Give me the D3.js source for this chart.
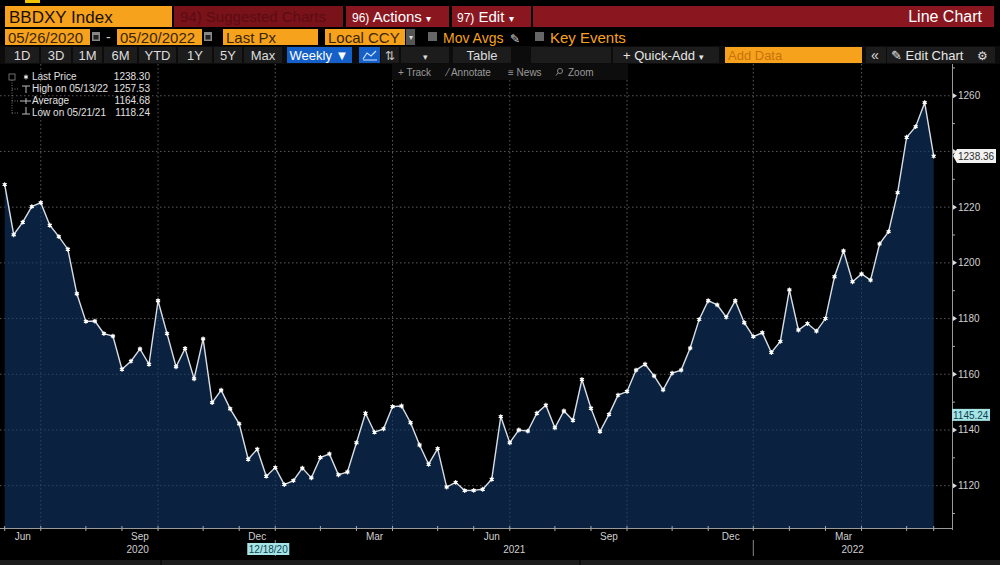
<!DOCTYPE html>
<html><head><meta charset="utf-8">
<script src="https://cdn.jsdelivr.net/npm/d3@7"></script>
<style>
html,body{margin:0;padding:0;background:#000;}
svg{display:block;font-family:"Liberation Sans",Arial,sans-serif;}
</style></head>
<body><svg id="c" width="1000" height="565"></svg>
<script>
// ---------- data ----------
const ticker = "BBDXY Index";
const startDateLabel = "05/26/2020";
const endDateLabel = "05/20/2022";
const firstWeek = new Date(2020, 4, 29);   // Friday 05/29/2020
const lastWeek  = new Date(2022, 4, 20);   // Friday 05/20/2022
const values = [
 1228.1,1210.1,1214.6,1220.2,1221.6,1213.5,1209.4,1204.9,1188.9,1179.0,
 1179.1,1174.6,1173.7,1161.8,1164.7,1169.1,1163.6,1186.4,1174.6,1162.7,
 1169.3,1158.4,1172.7,1149.8,1154.3,1147.6,1142.2,1129.5,1133.1,1123.4,
 1126.5,1120.4,1121.8,1126.3,1122.8,1130.1,1131.4,1123.9,1124.9,1135.4,
 1146.0,1139.2,1140.4,1148.4,1148.6,1142.6,1134.6,1127.7,1133.3,1119.5,
 1121.2,1118.24,1118.3,1118.7,1122.3,1144.8,1135.4,1140.0,1139.6,1146.0,
 1148.9,1140.8,1146.8,1143.5,1158.1,1147.8,1139.4,1145.6,1152.5,1153.8,
 1161.5,1163.6,1159.4,1154.4,1160.4,1161.5,1169.4,1179.7,1186.4,1184.9,
 1180.5,1186.4,1178.5,1173.5,1174.9,1167.8,1171.8,1190.3,1175.9,1178.2,
 1175.5,1180.0,1195.0,1204.3,1193.2,1196.0,1193.8,1206.8,1211.2,1225.2,
 1245.1,1248.9,1257.53,1238.30];
const yTicks = [1120,1140,1160,1180,1200,1220,1240,1260];
const yMinorTicks = [1110,1130,1150,1170,1190,1210,1230,1250,1270];
const quarterMonths = [2,5,8,11]; // Mar Jun Sep Dec
const legendLabels = ["Last Price","High on 05/13/22","Average","Low on 05/21/21"];
const legendValues = ["1238.30","1257.53","1164.68","1118.24"];
const lastTag = "1238.36";
const crossValue = 1145.24;
const crossDateLabel = "12/18/20";
const crossDate = new Date(2020, 11, 18);

const dates = d3.timeFriday.range(firstWeek, d3.timeDay.offset(lastWeek, 1));
const data = dates.map((d,i)=>({date:d, value:values[i]}));

// ---------- scales ----------
const svg = d3.select("#c");
const plot = {left:0, right:952, top:64, bottom:528};
const x = d3.scaleTime().domain([firstWeek, lastWeek]).range([4.7, 933.7]);
const y = d3.scaleLinear().domain([1104.8, 1271.4]).range([plot.bottom, plot.top]);

// month ticks = last weekly point of each month
const byMonth = d3.groups(data, d=>d.date.getFullYear()*12+d.date.getMonth());
const monthEnds = byMonth.map(g=>({key:g[0], date:g[1][g[1].length-1].date}));
const quarterEnds = monthEnds.filter(m=>quarterMonths.includes(m.date.getMonth()));

// ---------- header bars ----------
const orange = "#f7a21d", red = "#8a1720";
svg.append("rect").attr("x",25).attr("y",0).attr("width",15).attr("height",3).attr("fill","#f2c400");

svg.append("rect").attr("x",5).attr("y",6).attr("width",167).attr("height",21).attr("fill",orange);
svg.append("text").attr("x",9).attr("y",23).attr("font-size",17).attr("fill","#1a1000").text(ticker);
svg.append("rect").attr("x",174).attr("y",6).attr("width",169).attr("height",21).attr("fill","#7a121a");
svg.append("text").attr("x",180).attr("y",22).attr("font-size",15).attr("fill","#5a0c12").text("94) Suggested Charts");
svg.append("rect").attr("x",346).attr("y",6).attr("width",103).attr("height",21).attr("fill",red);
svg.append("text").attr("x",352).attr("y",22).attr("font-size",15).attr("fill","#fff").html('<tspan font-size="12">96)</tspan> Actions <tspan font-size="10">▾</tspan>');
svg.append("rect").attr("x",452).attr("y",6).attr("width",79).attr("height",21).attr("fill",red);
svg.append("text").attr("x",457).attr("y",22).attr("font-size",15).attr("fill","#fff").html('<tspan font-size="12">97)</tspan> Edit <tspan font-size="10">▾</tspan>');
svg.append("rect").attr("x",533).attr("y",6).attr("width",461).attr("height",21).attr("fill",red);
svg.append("text").attr("x",982).attr("y",22).attr("text-anchor","end").attr("font-size",16).attr("fill","#fff").text("Line Chart");

// row 2
function obox(x0,w,t){
  svg.append("rect").attr("x",x0).attr("y",29).attr("width",w).attr("height",16).attr("fill",orange);
  svg.append("text").attr("x",x0+3).attr("y",43).attr("font-size",15).attr("fill","#3a2600").text(t);
}
function cal(x0){
  svg.append("rect").attr("x",x0).attr("y",32).attr("width",8).attr("height",9).attr("fill","#888");
  svg.append("rect").attr("x",x0+1.5).attr("y",35).attr("width",5).attr("height",4.5).attr("fill","#222");
}
obox(5,85,startDateLabel); cal(92);
svg.append("text").attr("x",106).attr("y",42).attr("font-size",14).attr("fill","#ccc").text("-");
obox(117,85,endDateLabel); cal(204);
obox(223,95,"Last Px");
obox(325,80,"Local CCY");
svg.append("rect").attr("x",406).attr("y",29).attr("width",9).attr("height",16).attr("fill","#555");
svg.append("text").attr("x",410.5).attr("y",40).attr("text-anchor","middle").attr("font-size",8).attr("fill","#ddd").text("▾");
svg.append("rect").attr("x",428).attr("y",32).attr("width",9).attr("height",9).attr("fill","#666");
svg.append("text").attr("x",443).attr("y",43).attr("font-size",14).attr("fill",orange).text("Mov Avgs");
svg.append("text").attr("x",510).attr("y",43).attr("font-size",12).attr("fill","#ddd").text("✎");
svg.append("rect").attr("x",535).attr("y",32).attr("width",9).attr("height",9).attr("fill","#666");
svg.append("text").attr("x",550).attr("y",43).attr("font-size",15).attr("fill",orange).text("Key Events");

// row 3 toolbar
svg.append("rect").attr("x",0).attr("y",46).attr("width",1000).attr("height",18).attr("fill","#0c0c0c");
const btns = [[4,36,"1D"],[40,32,"3D"],[72,31,"1M"],[103,35,"6M"],[138,39,"YTD"],[177,36,"1Y"],[213,30,"5Y"],[243,40,"Max"],[400,50,"▾"],[452,60,"Table"]];
btns.forEach(b=>{
  svg.append("rect").attr("x",b[0]+1).attr("y",47).attr("width",b[1]-2).attr("height",16).attr("fill","#1c1c1c");
  svg.append("text").attr("x",b[0]+b[1]/2).attr("y",60).attr("text-anchor","middle").attr("font-size",b[2]==="▾"?9:13).attr("fill","#ddd").text(b[2]);
});
svg.append("rect").attr("x",287).attr("y",47).attr("width",65).attr("height",16).attr("fill","#1560c8");
svg.append("text").attr("x",319).attr("y",60).attr("text-anchor","middle").attr("font-size",13).attr("fill","#fff").text("Weekly ▼");
svg.append("rect").attr("x",359).attr("y",47).attr("width",21).attr("height",16).attr("fill","#1560c8");
svg.append("path").attr("d","M363,59 L367,53 L371,56 L376,51 M363,60 L377,60").attr("stroke","#cfe2ff").attr("fill","none").attr("stroke-width",1.2);
svg.append("rect").attr("x",381).attr("y",47).attr("width",18).attr("height",16).attr("fill","#1c1c1c");
svg.append("text").attr("x",390).attr("y",60).attr("text-anchor","middle").attr("font-size",12).attr("fill","#ccc").text("⇅");
svg.append("rect").attr("x",531).attr("y",47).attr("width",80).attr("height",16).attr("fill","#1c1c1c");
svg.append("rect").attr("x",613).attr("y",47).attr("width",106).attr("height",16).attr("fill","#1c1c1c");
svg.append("text").attr("x",623).attr("y",60).attr("font-size",13).attr("fill","#e6e6e6").html('+ Quick-Add <tspan font-size="9">▾</tspan>');
svg.append("rect").attr("x",725).attr("y",47).attr("width",137).attr("height",16).attr("fill",orange);
svg.append("text").attr("x",728).attr("y",60).attr("font-size",13).attr("fill","#c8720a").text("Add Data");
svg.append("rect").attr("x",866).attr("y",47).attr("width",20).attr("height",16).attr("fill","#1c1c1c");
svg.append("text").attr("x",875).attr("y",60).attr("text-anchor","middle").attr("font-size",14).attr("fill","#ddd").text("«");
svg.append("rect").attr("x",887).attr("y",47).attr("width",108).attr("height",16).attr("fill","#1c1c1c");
svg.append("text").attr("x",891).attr("y",60).attr("font-size",13).attr("fill","#e6e6e6").text("✎ Edit Chart");
svg.append("text").attr("x",982).attr("y",60).attr("text-anchor","middle").attr("font-size",12).attr("fill","#ddd").text("⚙");

// ---------- plot ----------
const g = svg.append("g");
g.selectAll(".hg").data(yTicks).join("line")
  .attr("x1",0).attr("x2",plot.right).attr("y1",d=>y(d)).attr("y2",d=>y(d))
  .attr("stroke","#5a5a5a").attr("stroke-width",1).attr("stroke-dasharray","1.5,2.5");
g.selectAll(".vg").data(quarterEnds).join("line")
  .attr("x1",d=>x(d.date)).attr("x2",d=>x(d.date)).attr("y1",plot.top).attr("y2",plot.bottom)
  .attr("stroke","#5a5a5a").attr("stroke-width",1).attr("stroke-dasharray","1.5,2.5");

const area = d3.area().x(d=>x(d.date)).y0(plot.bottom).y1(d=>y(d.value));
g.append("path").datum(data).attr("d",area).attr("fill","#0a2240");
svg.append("clipPath").attr("id","areaclip").append("path").datum(data).attr("d",area);
g.selectAll(".hg2").data(yTicks).join("line")
  .attr("x1",0).attr("x2",x(lastWeek)).attr("y1",d=>y(d)).attr("y2",d=>y(d))
  .attr("stroke","#2c4660").attr("stroke-width",1).attr("stroke-dasharray","1.5,2.5")
  .attr("clip-path","url(#areaclip)");
g.selectAll(".vg2").data(quarterEnds).join("line")
  .attr("x1",d=>x(d.date)).attr("x2",d=>x(d.date)).attr("y1",plot.top).attr("y2",plot.bottom)
  .attr("stroke","#2c4660").attr("stroke-width",1).attr("stroke-dasharray","1.5,2.5")
  .attr("clip-path","url(#areaclip)");

const line = d3.line().x(d=>x(d.date)).y(d=>y(d.value));
g.append("path").datum(data).attr("d",line).attr("fill","none").attr("stroke","#d9dee4").attr("stroke-width",1.4);
g.selectAll(".mk").data(data).join("path")
  .attr("transform",d=>`translate(${x(d.date)},${y(d.value)})`)
  .attr("d",d3.symbol(d3.symbolAsterisk,16)())
  .attr("stroke","#ffffff").attr("stroke-width",1.1).attr("fill","none");
g.selectAll(".mk2").data(data).join("rect")
  .attr("x",d=>x(d.date)-1.4).attr("y",d=>y(d.value)-1.4).attr("width",2.8).attr("height",2.8).attr("fill","#fff");

// right axis
const ly = y(+lastTag);
svg.append("line").attr("x1",plot.right+0.5).attr("x2",plot.right+0.5).attr("y1",plot.top).attr("y2",plot.bottom+2)
  .attr("stroke","#9a9a9a").attr("stroke-width",1);
svg.selectAll(".ymin").data(yMinorTicks).join("line")
  .attr("x1",plot.right).attr("x2",plot.right+3).attr("y1",d=>y(d)).attr("y2",d=>y(d)).attr("stroke","#aaa");
svg.selectAll(".yarr").data(yTicks).join("path")
  .attr("d",d=>`M${plot.right+1},${y(d)-2.5} L${plot.right+5},${y(d)} L${plot.right+1},${y(d)+2.5}Z`).attr("fill","#ddd");
// labels (the one hidden behind the last-price tag is not drawn)
svg.selectAll(".ylab").data(yTicks.filter(t=>Math.abs(y(t)-ly)>9)).join("text")
  .attr("x",plot.right+6).attr("y",d=>y(d)+3.5).attr("font-size",10).attr("fill","#d0d0d0").text(d=>d);

// last price tag
svg.append("path").attr("d",`M${plot.right+1},${ly} L${plot.right+5},${ly-7} L996,${ly-7} L996,${ly+7} L${plot.right+5},${ly+7}Z`)
  .attr("fill","#f2f2f2");
svg.append("text").attr("x",958).attr("y",ly+3.5).attr("font-size",10).attr("fill","#2a2a2a").text(lastTag);
// crosshair value tag
const cy = y(crossValue);
svg.append("rect").attr("x",952).attr("y",cy-6.5).attr("width",38).attr("height",12).attr("fill","#a6e4e6");
svg.append("text").attr("x",953).attr("y",cy+3.5).attr("font-size",10).attr("fill","#0c4250").text(crossValue.toFixed(2));

// bottom axis
svg.append("line").attr("x1",0).attr("x2",plot.right+1).attr("y1",plot.bottom+0.5).attr("y2",plot.bottom+0.5).attr("stroke","#9a9a9a");
svg.selectAll(".xt").data(monthEnds).join("line")
  .attr("x1",d=>x(d.date)).attr("x2",d=>x(d.date)).attr("y1",plot.bottom-2).attr("y2",plot.bottom+3).attr("stroke","#aaa");
const fmtM = d3.timeFormat("%b");
const qLabels = quarterEnds.map(q=>{
  const idx = monthEnds.findIndex(m=>m.key===q.key);
  const prev = monthEnds[idx-1] ? monthEnds[idx-1].date : firstWeek;
  return {cx:(x(prev)+x(q.date))/2, label:fmtM(q.date)};
});
svg.selectAll(".ml").data(qLabels).join("text")
  .attr("x",d=>d.cx).attr("y",540).attr("text-anchor","middle").attr("font-size",10).attr("fill","#cfcfcf").text(d=>d.label);
const years = d3.groups(monthEnds, m=>m.date.getFullYear());
const yearSpans = years.map((yr,i)=>{
  const prevEnd = i===0 ? 0 : x(years[i-1][1][years[i-1][1].length-1].date);
  const end = i===years.length-1 ? plot.right : x(yr[1][yr[1].length-1].date);
  return {year:yr[0], x0:prevEnd, x1:end};
});
svg.selectAll(".ysep").data(yearSpans.slice(1)).join("line")
  .attr("x1",d=>d.x0).attr("x2",d=>d.x0).attr("y1",540).attr("y2",556).attr("stroke","#888");
svg.selectAll(".yl").data(yearSpans).join("text")
  .attr("x",d=>(d.x0+d.x1)/2).attr("y",553).attr("text-anchor","middle").attr("font-size",10).attr("fill","#cfcfcf").text(d=>d.year);
const cdx = x(crossDate);
svg.append("rect").attr("x",cdx-19).attr("y",543).attr("width",42).attr("height",12).attr("fill","#a6e4e6");
svg.append("text").attr("x",cdx+2).attr("y",553).attr("text-anchor","middle").attr("font-size",10).attr("fill","#0c4250").text(crossDateLabel);

// bottom strip
svg.append("rect").attr("x",0).attr("y",560).attr("width",1000).attr("height",5).attr("fill","#1c1c1c");
svg.append("line").attr("x1",161).attr("x2",161).attr("y1",560).attr("y2",565).attr("stroke","#000");
svg.append("line").attr("x1",580).attr("x2",580).attr("y1",560).attr("y2",565).attr("stroke","#000");

// track toolbar
svg.append("rect").attr("x",392).attr("y",64).attr("width",236).attr("height",16).attr("fill","#0d0d0d");
const tools = [[398,"+ Track"],[447,"⁄ Annotate"],[508,"≡ News"],[568,"Zoom"]];
tools.forEach(t=>svg.append("text").attr("x",t[0]).attr("y",76).attr("font-size",10).attr("fill","#9a9a9a").text(t[1]));
svg.append("circle").attr("cx",560).attr("cy",71).attr("r",2.5).attr("fill","none").attr("stroke","#8a8a8a");
svg.append("line").attr("x1",558).attr("y1",73).attr("x2",556).attr("y2",75.5).attr("stroke","#8a8a8a");

// legend
const lg = svg.append("g");
lg.append("rect").attr("x",9).attr("y",74).attr("width",6).attr("height",6).attr("fill","none").attr("stroke","#888").attr("stroke-width",0.8);
lg.append("line").attr("x1",12).attr("x2",12).attr("y1",80).attr("y2",115).attr("stroke","#777").attr("stroke-dasharray","1,1.5");
const lys = [80,92,104,116];
legendLabels.forEach((t,i)=>{
  if(i>0) lg.append("line").attr("x1",12).attr("x2",18).attr("y1",lys[i]-3).attr("y2",lys[i]-3).attr("stroke","#777").attr("stroke-dasharray","1,1.5");
  lg.append("text").attr("x",32).attr("y",lys[i]).attr("font-size",10).attr("fill","#e0e0e0").text(t);
  lg.append("text").attr("x",150).attr("y",lys[i]).attr("text-anchor","end").attr("font-size",10).attr("fill","#e0e0e0").text(legendValues[i]);
});
lg.append("path").attr("transform","translate(26,77)").attr("d",d3.symbol(d3.symbolAsterisk,16)()).attr("stroke","#fff").attr("fill","none");
lg.append("path").attr("d","M22,86 L30,86 M26,86 L26,93").attr("stroke","#bbb");
lg.append("path").attr("d","M20,101 L31,101 M26,98 L26,104").attr("stroke","#bbb");
lg.append("path").attr("d","M26,107 L26,114 M22,114 L30,114").attr("stroke","#bbb");
</script></body></html>
